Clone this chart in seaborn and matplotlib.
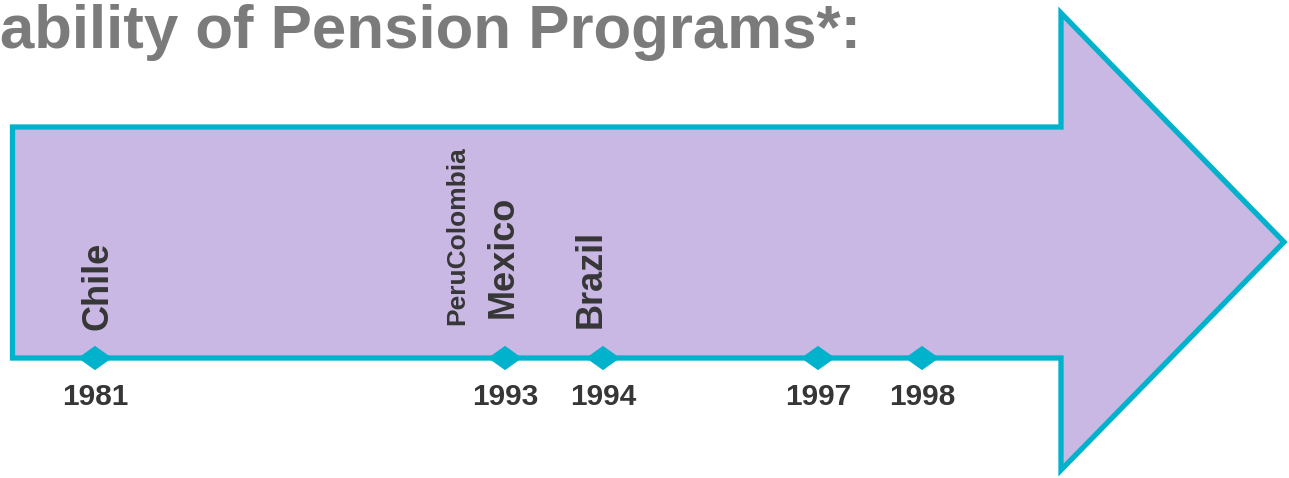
import matplotlib.pyplot as plt
import pandas as pd
import seaborn as sns
from matplotlib.patches import Polygon

# timeline data (positions in canvas pixels)
years = ['1981', '1993', '1994', '1997', '1998']
year_x = [95, 505, 603, 818, 922]
countries = ['Chile', 'PeruColombia', 'Mexico', 'Brazil']
country_x = [98, 457, 503, 591]
country_bottom = [330, 325, 318, 328]
title = 'ability of Pension Programs*:'

fill_col = '#c9b8e4'
line_col = '#00b2cb'
text_col = '#363636'

sns.set_theme(style='white')
plt.rcParams['font.family'] = ['Liberation Sans', 'DejaVu Sans']

W, H = 1289, 478
fig = plt.figure(figsize=(W / 100, H / 100), dpi=100)
ax = fig.add_axes([0, 0, 1, 1])

# big arrow, its bottom edge is the timeline
line_y = 358
arrow = Polygon([(12.5, 127), (1061, 127), (1061, 13), (1284, 242),
                 (1061, 470), (1061, line_y), (12.5, line_y)],
                closed=True, facecolor=fill_col, edgecolor=line_col,
                linewidth=3.8, joinstyle='miter', zorder=1)
ax.add_patch(arrow)

# diamonds on the timeline
df = pd.DataFrame({'year': years, 'x': year_x, 'y': [line_y] * len(years)})
diamond = [(-1.4, 0), (0, 1), (1.4, 0), (0, -1), (-1.4, 0)]
sns.scatterplot(data=df, x='x', y='y', marker=diamond, s=600,
                color=line_col, edgecolor='none', linewidth=0, ax=ax, zorder=3,
                legend=False)
ax.set_xlim(0, W)
ax.set_ylim(H, 0)
ax.axis('off')

for yr, x in zip(years, year_x):
    ax.text(x, 397, yr, ha='center', va='center', fontsize=21.5,
            fontweight='bold', color=text_col)

for name, x, yb in zip(countries, country_x, country_bottom):
    # the two names were squeezed into one narrow slot
    size = 19 if name == 'PeruColombia' else 26
    ax.text(x, yb, name, rotation=90, ha='center', va='bottom',
            fontsize=size, fontweight='bold', color=text_col)

ax.text(0, 32, title, ha='left', va='center', fontsize=44.5,
        fontweight='bold', color='#7b7b7b')

plt.savefig('out.png', dpi=100)
